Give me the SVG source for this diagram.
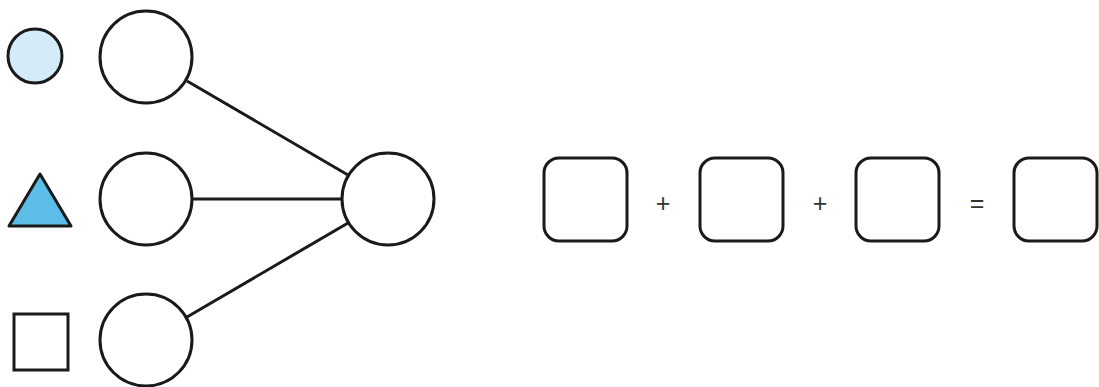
<svg xmlns="http://www.w3.org/2000/svg" width="1099" height="387" viewBox="0 0 1099 387">
<style>
.s{fill:#fff;stroke:#1a1a1a;stroke-width:3}
.c{stroke:#1a1a1a;stroke-width:3;fill:none}
.op{font-family:"Liberation Sans",Arial,sans-serif;font-size:25px;fill:#333;text-anchor:middle}
</style>
<rect width="1099" height="387" fill="#fff"/>
<g id="connectors">
<line class="c" x1="187" y1="81" x2="348" y2="175"/>
<line class="c" x1="193" y1="199" x2="341" y2="199"/>
<line class="c" x1="187" y1="317" x2="348" y2="223"/>
</g>
<g id="legend-circle"><circle cx="35" cy="56" r="27" fill="#d4ecfa" stroke="#1a1a1a" stroke-width="3"/></g>
<g id="legend-triangle"><polygon points="40,174 9,226 71,226" fill="#5bbde8" stroke="#1a1a1a" stroke-width="3" stroke-linejoin="round"/></g>
<g id="legend-square"><rect x="14" y="314" width="54" height="56" fill="#fff" stroke="#1a1a1a" stroke-width="3"/></g>
<g id="node-top"><circle class="s" cx="146" cy="57" r="46"/></g>
<g id="node-middle"><circle class="s" cx="146" cy="199" r="46"/></g>
<g id="node-bottom"><circle class="s" cx="146" cy="340" r="46"/></g>
<g id="node-right"><circle class="s" cx="388" cy="199" r="46"/></g>
<g id="box1"><rect class="s" x="544" y="158" width="83" height="83" rx="15"/></g>
<g id="op1"><text class="op" x="663" y="212">+</text></g>
<g id="box2"><rect class="s" x="700" y="158" width="83" height="83" rx="15"/></g>
<g id="op2"><text class="op" x="820" y="212">+</text></g>
<g id="box3"><rect class="s" x="856" y="158" width="83" height="83" rx="15"/></g>
<g id="op3"><text class="op" x="977" y="212">=</text></g>
<g id="box4"><rect class="s" x="1014" y="158" width="83" height="83" rx="15"/></g>
</svg>
